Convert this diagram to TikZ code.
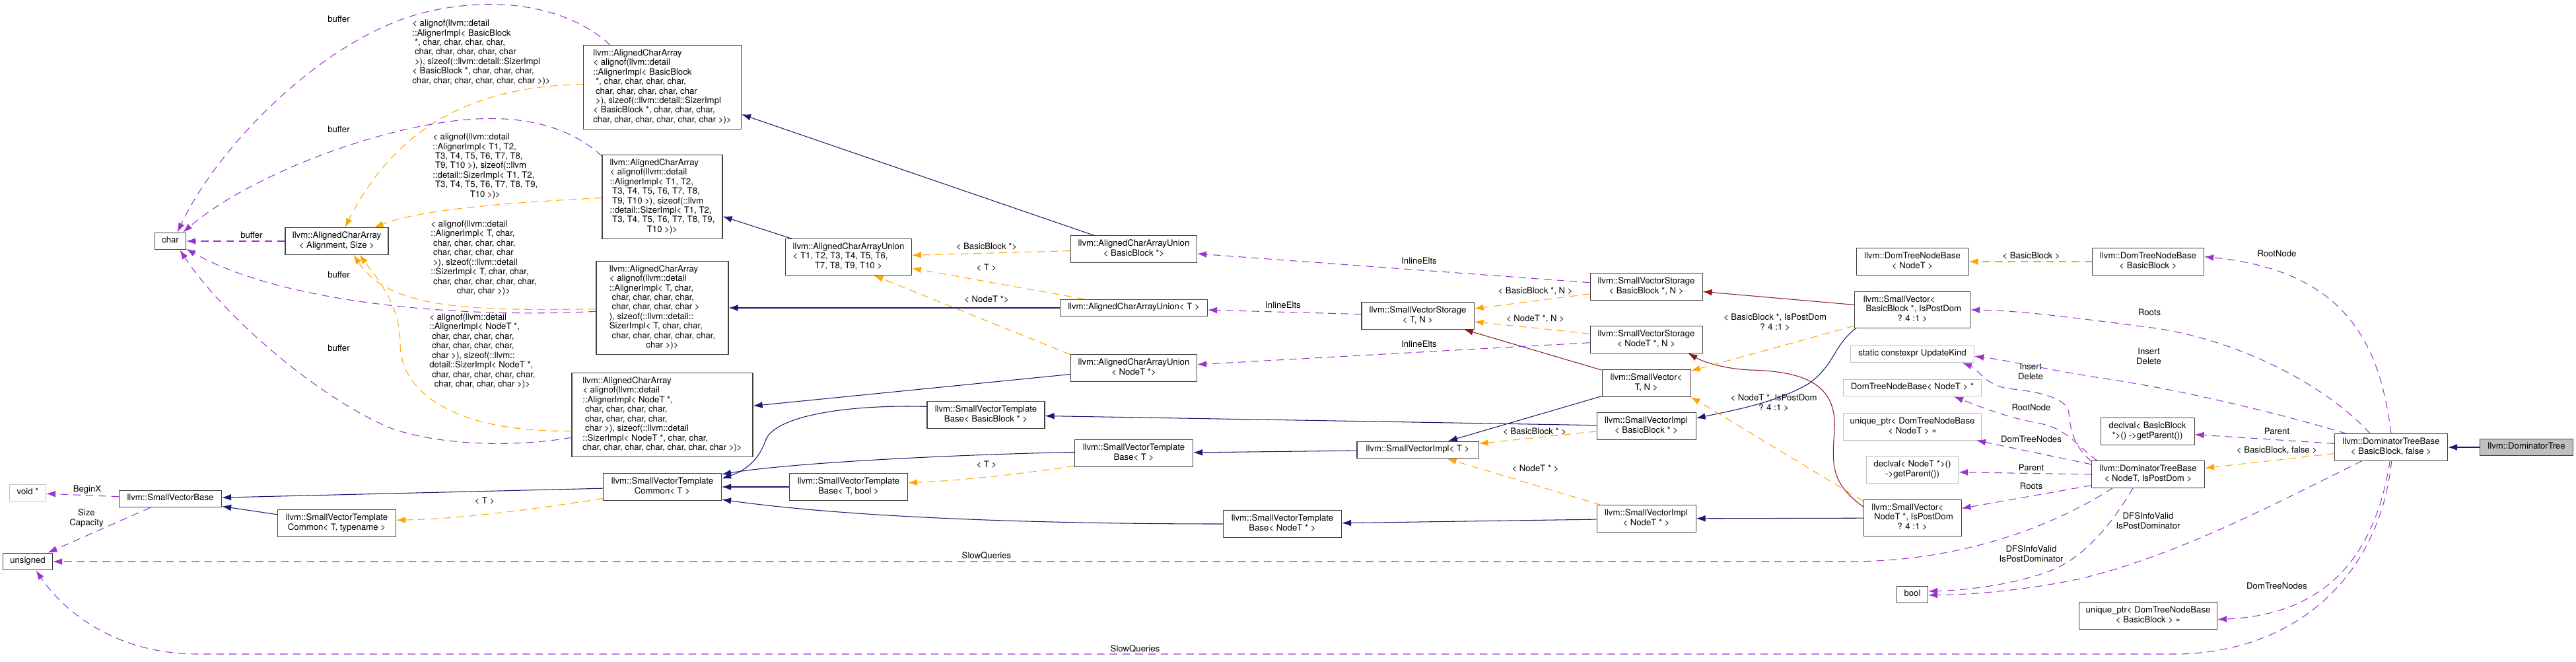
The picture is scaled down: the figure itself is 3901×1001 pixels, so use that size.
\documentclass[tikz,border=0pt]{standalone}
\usepackage{fontspec}
\setmainfont{TeX Gyre Heros}
\usetikzlibrary{arrows.meta}
\definecolor{inhBlue}{HTML}{191970}
\definecolor{protRed}{HTML}{8B1A1A}
\definecolor{useOrchid}{HTML}{9A32CD}
\definecolor{tmplOrange}{HTML}{FFA500}
\definecolor{boxGray}{HTML}{BFBFBF}
\definecolor{boxLine}{HTML}{404040}
\newlength{\px}\setlength{\px}{0.02cm}
\newcommand{\dfont}{\fontsize{7.5pt}{8.22pt}\selectfont}
\newcommand{\ctxt}[1]{\begin{tabular}{@{}c@{}}#1\end{tabular}}
\newcommand{\ltxt}[1]{\begin{tabular}{@{}l@{}}#1\end{tabular}}
\newcommand{\lastrow}[1]{\multicolumn{1}{@{}c@{}}{#1}}
\begin{document}
\begin{tikzpicture}[x=0.02cm, y=-0.02cm,
    cls/.style={draw=boxLine, fill=white, line width=0.6pt, inner xsep=3pt, inner ysep=3.2pt, font=\dfont},
    ucls/.style={cls, draw=boxGray},
    boxw/.style={minimum width=#1\px},
    lbl/.style={font=\dfont, inner sep=0pt},
    conn/.style={line width=0.6pt, -{Latex[length=8pt, width=5.6pt]}},
    inh/.style={conn, draw=inhBlue},
    prot/.style={conn, draw=protRed},
    usage/.style={conn, draw=useOrchid, dash pattern=on 6.5pt off 4.5pt},
    tmpl/.style={conn, draw=tmplOrange, dash pattern=on 6.5pt off 4.5pt}]
        \useasboundingbox (0,0) rectangle (3901,1001);
        \node[cls, boxw=47] (chr) at (258,365) {\ctxt{char}};
        \node[cls, boxw=156] (acaas) at (510,365) {\ctxt{llvm::AlignedCharArray\\< Alignment, Size >}};
        \node[cls, boxw=239] (acabb) at (1003,132) {\ltxt{llvm::AlignedCharArray\\< alignof(llvm::detail\\::AlignerImpl< BasicBlock\\\ *, char, char, char, char,\\\ char, char, char, char, char\\\ >), sizeof(::llvm::detail::SizerImpl\\< BasicBlock *, char, char, char,\\\lastrow{char, char, char, char, char, char >)>}}};
        \node[cls, boxw=182] (acat1) at (1003,298) {\ltxt{llvm::AlignedCharArray\\< alignof(llvm::detail\\::AlignerImpl< T1, T2,\\\ T3, T4, T5, T6, T7, T8,\\\ T9, T10 >), sizeof(::llvm\\::detail::SizerImpl< T1, T2,\\\ T3, T4, T5, T6, T7, T8, T9,\\\lastrow{T10 >)>}}};
        \node[cls, boxw=200] (acat) at (1003,466) {\ltxt{llvm::AlignedCharArray\\< alignof(llvm::detail\\::AlignerImpl< T, char,\\\ char, char, char, char,\\\ char, char, char, char >\\), sizeof(::llvm::detail::\\SizerImpl< T, char, char,\\\ char, char, char, char, char,\\\lastrow{char >)>}}};
        \node[cls, boxw=274] (acan) at (1003,628) {\ltxt{llvm::AlignedCharArray\\< alignof(llvm::detail\\::AlignerImpl< NodeT *,\\\ char, char, char, char,\\\ char, char, char, char,\\\ char >), sizeof(::llvm::detail\\::SizerImpl< NodeT *, char, char,\\\lastrow{char, char, char, char, char, char, char >)>}}};
        \node[cls, boxw=191] (uniont10) at (1285,389) {\ltxt{llvm::AlignedCharArrayUnion\\< T1, T2, T3, T4, T5, T6,\\\lastrow{T7, T8, T9, T10 >}}};
        \node[cls, boxw=191] (unionbb) at (1717,377) {\ctxt{llvm::AlignedCharArrayUnion\\< BasicBlock *>}};
        \node[cls, boxw=223] (uniont) at (1717,466) {\ctxt{llvm::AlignedCharArrayUnion< T >}};
        \node[cls, boxw=191] (unionn) at (1717,557) {\ctxt{llvm::AlignedCharArrayUnion\\< NodeT *>}};
        \node[cls, boxw=170] (stort) at (2147,478) {\ctxt{llvm::SmallVectorStorage\\< T, N >}};
        \node[cls, boxw=170] (storbb) at (2493,434) {\ctxt{llvm::SmallVectorStorage\\< BasicBlock *, N >}};
        \node[cls, boxw=170] (storn) at (2493,514) {\ctxt{llvm::SmallVectorStorage\\< NodeT *, N >}};
        \node[cls, boxw=134] (vectn) at (2493,580) {\ctxt{llvm::SmallVector<\\T, N >}};
        \node[cls, boxw=150] (implbb) at (2493,645) {\ctxt{llvm::SmallVectorImpl\\< BasicBlock * >}};
        \node[cls, boxw=184] (implt) at (2147,681) {\ctxt{llvm::SmallVectorImpl< T >}};
        \node[cls, boxw=150] (impln) at (2493,785) {\ctxt{llvm::SmallVectorImpl\\< NodeT * >}};
        \node[cls, boxw=178] (basebb) at (1493,628) {\ctxt{llvm::SmallVectorTemplate\\Base< BasicBlock * >}};
        \node[cls, boxw=179] (baset) at (1717,686) {\ctxt{llvm::SmallVectorTemplate\\Base< T >}};
        \node[cls, boxw=179] (basetb) at (1285,737) {\ctxt{llvm::SmallVectorTemplate\\Base< T, bool >}};
        \node[cls, boxw=179] (basen) at (1942,793) {\ctxt{llvm::SmallVectorTemplate\\Base< NodeT * >}};
        \node[cls, boxw=179] (commont) at (1003,737) {\ctxt{llvm::SmallVectorTemplate\\Common< T >}};
        \node[cls, boxw=179] (commontt) at (510,792) {\ctxt{llvm::SmallVectorTemplate\\Common< T, typename >}};
        \node[cls, boxw=155] (svbase) at (258,755) {\ctxt{llvm::SmallVectorBase}};
        \node[ucls, boxw=55] (voidp) at (42,746) {\ctxt{void *}};
        \node[cls, boxw=75] (unsig) at (42,850) {\ctxt{unsigned}};
        \node[cls, boxw=170] (nodebn) at (2896,396) {\ctxt{llvm::DomTreeNodeBase\\< NodeT >}};
        \node[cls, boxw=169] (nodebb) at (3253,396) {\ctxt{llvm::DomTreeNodeBase\\< BasicBlock >}};
        \node[cls, boxw=175] (vecbb) at (2896,469) {\ltxt{llvm::SmallVector<\\\ BasicBlock *, IsPostDom\\\lastrow{? 4 :1 >}}};
        \node[ucls, boxw=187] (updk) at (2896,536) {\ctxt{static constexpr UpdateKind}};
        \node[ucls, boxw=209] (nodeptr) at (2896,587) {\ctxt{DomTreeNodeBase< NodeT > *}};
        \node[ucls, boxw=209] (uniqn) at (2896,646) {\ctxt{unique\_ptr< DomTreeNodeBase\\< NodeT > >>}};
        \node[ucls, boxw=139] (declvn) at (2896,711) {\ctxt{declval< NodeT *>()\\->getParent())}};
        \node[cls, boxw=148] (vecn) at (2896,784) {\ltxt{llvm::SmallVector<\\\ NodeT *, IsPostDom\\\lastrow{? 4 :1 >}}};
        \node[cls, boxw=47] (boolt) at (2896,900) {\ctxt{bool}};
        \node[cls, boxw=171] (dtbn) at (3253,718) {\ctxt{llvm::DominatorTreeBase\\< NodeT, IsPostDom >}};
        \node[cls, boxw=142] (declvbb) at (3252,653) {\ctxt{declval< BasicBlock\\{}*>() ->getParent())}};
        \node[cls, boxw=209] (uniqbb) at (3253,932) {\ctxt{unique\_ptr< DomTreeNodeBase\\< BasicBlock > >>}};
        \node[cls, boxw=171] (dtbbb) at (3621,677) {\ctxt{llvm::DominatorTreeBase\\< BasicBlock, false >}};
        \node[cls, fill=boxGray, boxw=141] (domtree) at (3826,677) {\ctxt{llvm::DominatorTree}};
        \node[lbl] (lbuf1) at (381,356) {buffer};
        \node[lbl] (lbuf2) at (513,29) {buffer};
        \node[lbl] (lbuf3) at (513,196) {buffer};
        \node[lbl] (lbuf4) at (513,416) {buffer};
        \node[lbl] (lbuf5) at (513,527) {buffer};
        \node[lbl, anchor=west] (lalbb) at (624,80) {\ltxt{< alignof(llvm::detail\\::AlignerImpl< BasicBlock\\\ *, char, char, char, char,\\\ char, char, char, char, char\\\ >), sizeof(::llvm::detail::SizerImpl\\< BasicBlock *, char, char, char,\\\lastrow{char, char, char, char, char, char >)>}}};
        \node[lbl, anchor=west] (lalt1) at (655,252) {\ltxt{< alignof(llvm::detail\\::AlignerImpl< T1, T2,\\\ T3, T4, T5, T6, T7, T8,\\\ T9, T10 >), sizeof(::llvm\\::detail::SizerImpl< T1, T2,\\\ T3, T4, T5, T6, T7, T8, T9,\\\lastrow{T10 >)>}}};
        \node[lbl, anchor=west] (lalt) at (652,391) {\ltxt{< alignof(llvm::detail\\::AlignerImpl< T, char,\\\ char, char, char, char,\\\ char, char, char, char\\\ >), sizeof(::llvm::detail\\::SizerImpl< T, char, char,\\\ char, char, char, char, char,\\\lastrow{char, char >)>}}};
        \node[lbl, anchor=west] (laln) at (650,532) {\ltxt{< alignof(llvm::detail\\::AlignerImpl< NodeT *,\\\ char, char, char, char,\\\ char, char, char, char,\\\ char >), sizeof(::llvm::\\detail::SizerImpl< NodeT *,\\\ char, char, char, char, char,\\\lastrow{char, char, char, char >)>}}};
        \node[lbl] (lubb) at (1494,373) {< BasicBlock *>};
        \node[lbl] (lut) at (1494,405) {< T >};
        \node[lbl] (lun) at (1494,453) {< NodeT *>};
        \node[lbl] (lct) at (734,758) {< T >};
        \node[lbl] (lbt) at (1494,703) {< T >};
        \node[lbl] (lsbb) at (2325,441) {< BasicBlock *, N >};
        \node[lbl] (lsn) at (2325,483) {< NodeT *, N >};
        \node[lbl] (libb) at (2324,653) {< BasicBlock * >};
        \node[lbl] (limpn) at (2325,709) {< NodeT * >};
        \node[lbl] (lvbb) at (2688,489) {\ctxt{< BasicBlock *, IsPostDom\\? 4 :1 >}};
        \node[lbl] (lvn) at (2686,611) {\ctxt{< NodeT *, IsPostDom\\? 4 :1 >}};
        \node[lbl] (lnbb) at (3076,387) {< BasicBlock >};
        \node[lbl] (ldbb) at (3448,682) {< BasicBlock, false >};
        \node[lbl] (lin1) at (2149,395) {InlineElts};
        \node[lbl] (lin2) at (1943,462) {InlineElts};
        \node[lbl] (lin3) at (2149,521) {InlineElts};
        \node[lbl] (lbegin) at (132,741) {BeginX};
        \node[lbl] (lsize) at (131,785) {\ctxt{Size\\Capacity}};
        \node[lbl] (lslow1) at (1494,841) {SlowQueries};
        \node[lbl] (lslow2) at (1719,982) {SlowQueries};
        \node[lbl] (lins1) at (3075,564) {\ctxt{Insert\\Delete}};
        \node[lbl] (lins2) at (3254,541) {\ctxt{Insert\\Delete}};
        \node[lbl] (lroot1) at (3076,617) {RootNode};
        \node[lbl] (lroot2) at (3448,384) {RootNode};
        \node[lbl] (ldtn1) at (3076,665) {DomTreeNodes};
        \node[lbl] (ldtn2) at (3448,887) {DomTreeNodes};
        \node[lbl] (lpar1) at (3076,708) {Parent};
        \node[lbl] (lpar2) at (3448,653) {Parent};
        \node[lbl] (lroots1) at (3076,736) {Roots};
        \node[lbl] (lroots2) at (3255,473) {Roots};
        \node[lbl] (ldfs1) at (3076,840) {\ctxt{DFSInfoValid\\IsPostDominator}};
        \node[lbl] (ldfs2) at (3253,790) {\ctxt{DFSInfoValid\\IsPostDominator}};
        \draw[inh] (domtree) -- (dtbbb);
        \draw[inh] (unionbb) -- (acabb);
        \draw[inh] (uniont10) -- (acat1);
        \draw[inh] (uniont) -- (acat);
        \draw[inh] (unionn) -- (acan);
        \draw[inh] (basebb.172) .. controls (1280,612) and (1175,630) .. (1160,665) .. controls (1150,695) and (1130,712) .. (commont.8);
        \draw[inh] (baset.179) .. controls (1450,688) and (1200,700) .. (commont.12);
        \draw[inh] (basetb) -- (commont);
        \draw[inh] (basen.west) .. controls (1600,793) and (1300,785) .. (commont.-12);
        \draw[inh] (commont) -- (svbase);
        \draw[inh] (commontt) -- (svbase);
        \draw[inh] (implbb) -- (basebb);
        \draw[inh] (implt) -- (baset);
        \draw[inh] (impln) -- (basen);
        \draw[inh] (vectn) -- (implt);
        \draw[inh] (vecbb.198) .. controls (2775,525) and (2780,550) .. (2740,580) .. controls (2690,610) and (2620,622) .. (implbb.9);
        \draw[inh] (vecn) -- (impln);
        \draw[prot] (vectn) -- (stort);
        \draw[prot] (vecbb) -- (storbb);
        \draw[prot] (vecn.167) .. controls (2770,730) and (2775,700) .. (2778,650) .. controls (2782,580) and (2730,562) .. (2650,560) .. controls (2610,558) and (2580,548) .. (storn.-18);
        \draw[tmpl] (acabb.178) .. controls (720,130) and (600,190) .. (acaas.59);
        \draw[tmpl] (acat1.181) .. controls (800,305) and (640,315) .. (acaas.20);
        \draw[tmpl] (acat.181) .. controls (720,470) and (590,470) .. (acaas.-39);
        \draw[tmpl] (acan.190) .. controls (700,655) and (606,600) .. (606,520) .. controls (606,460) and (570,420) .. (acaas.-31);
        \draw[tmpl] (unionbb) -- (uniont10);
        \draw[tmpl] (uniont) -- (uniont10);
        \draw[tmpl] (unionn.168) -- (uniont10.-36);
        \draw[tmpl] (commont.191) .. controls (800,772) and (700,785) .. (commontt.3);
        \draw[tmpl] (baset.192) .. controls (1550,717) and (1450,728) .. (basetb.4);
        \draw[tmpl] (storbb) -- (stort);
        \draw[tmpl] (storn) -- (stort);
        \draw[tmpl] (implbb) -- (implt);
        \draw[tmpl] (impln) -- (implt);
        \draw[tmpl] (vecbb) -- (vectn);
        \draw[tmpl] (vecn.161) -- (vectn.-17);
        \draw[tmpl] (nodebb) -- (nodebn);
        \draw[tmpl] (dtbbb) -- (dtbn);
        \draw[usage] (acaas) -- (chr);
        \draw[usage] (acabb.141) .. controls (860,10) and (760,-5) .. (660,15) .. controls (500,45) and (330,220) .. (chr.51);
        \draw[usage] (acat1.146) .. controls (850,180) and (760,170) .. (660,187) .. controls (520,210) and (360,280) .. (chr.35);
        \draw[usage] (acat.183) .. controls (700,482) and (430,460) .. (chr.-26);
        \draw[usage] (acan.194) .. controls (760,680) and (650,670) .. (589,647) .. controls (480,600) and (340,480) .. (chr.-43);
        \draw[usage] (storbb) -- (unionbb);
        \draw[usage] (stort) -- (uniont);
        \draw[usage] (storn) -- (unionn);
        \draw[usage] (svbase) -- (voidp);
        \draw[usage] (svbase) -- (unsig);
        \draw[usage] (dtbn.167) .. controls (3140,675) and (3135,650) .. (3133,625) .. controls (3130,600) and (3080,592) .. (3040,588) .. controls (3005,582) and (2995,558) .. (updk.-10);
        \draw[usage] (dtbn.165) .. controls (3140,670) and (3130,650) .. (3090,641) .. controls (3040,632) and (3010,620) .. (nodeptr.-12);
        \draw[usage] (dtbn.170) -- (uniqn.-12);
        \draw[usage] (dtbn.west) -- (declvn.-3);
        \draw[usage] (dtbn.191) -- (vecn.11);
        \draw[usage] (dtbn.201) .. controls (3120,790) and (2980,850) .. (2800,850) -- (unsig.east);
        \draw[usage] (dtbn.222) .. controls (3200,790) and (3160,840) .. (3110,862) .. controls (3060,882) and (2990,893) .. (boolt.12);
        \draw[usage] (dtbbb.north) .. controls (3605,530) and (3560,410) .. (nodebb.5);
        \draw[usage] (dtbbb.147) .. controls (3520,580) and (3380,510) .. (3250,495) .. controls (3150,482) and (3060,470) .. (vecbb.east);
        \draw[usage] (dtbbb.163) .. controls (3450,625) and (3300,590) .. (3200,575) .. controls (3100,560) and (3040,545) .. (updk.-2);
        \draw[usage] (dtbbb) -- (declvbb);
        \draw[usage] (dtbbb.-95) .. controls (3600,820) and (3540,930) .. (uniqbb.-3);
        \draw[usage] (dtbbb.-88) .. controls (3605,860) and (3490,985) .. (3300,990) -- (300,990) .. controls (180,990) and (100,930) .. (unsig.-47);
        \draw[usage] (dtbbb.205) .. controls (3450,760) and (3300,840) .. (3150,876) .. controls (3060,895) and (2980,900) .. (boolt.-2);
      \end{tikzpicture}
\end{document}
